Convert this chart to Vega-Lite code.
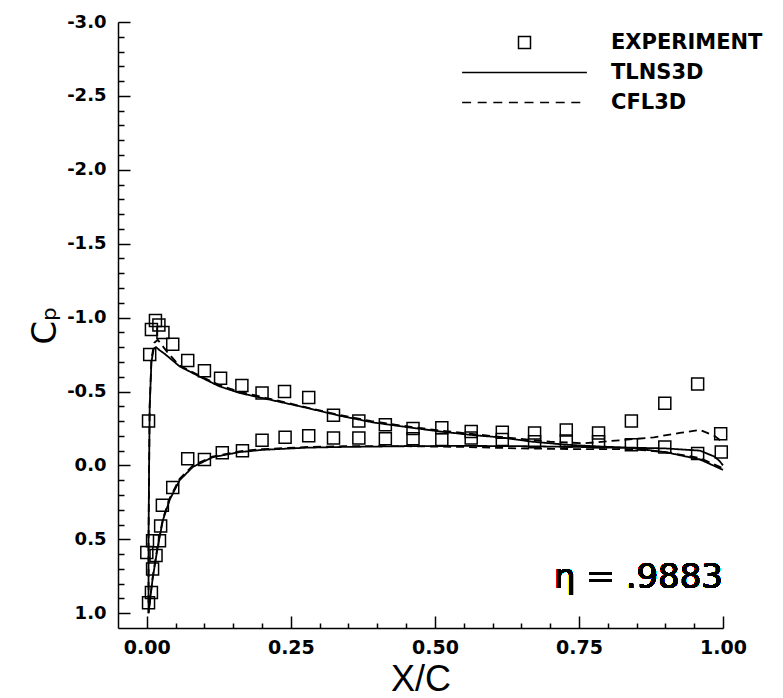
{
  "$schema": "https://vega.github.io/schema/vega-lite/v6.json",
  "width": 605,
  "height": 606,
  "autosize": {"type": "none"},
  "padding": {"left": 118, "top": 22, "right": 60, "bottom": 70},
  "background": "white",
  "config": {"view": {"stroke": null}, "font": "DejaVu Sans"},
  "data": {"values": [
    {"s":"EXPERIMENT","x":0.003,"cp":-0.30},{"s":"EXPERIMENT","x":0.005,"cp":-0.75},{"s":"EXPERIMENT","x":0.008,"cp":-0.92},{"s":"EXPERIMENT","x":0.015,"cp":-0.98},{"s":"EXPERIMENT","x":0.021,"cp":-0.95},{"s":"EXPERIMENT","x":0.028,"cp":-0.90},{"s":"EXPERIMENT","x":0.045,"cp":-0.82},{"s":"EXPERIMENT","x":0.071,"cp":-0.71},{"s":"EXPERIMENT","x":0.100,"cp":-0.64},{"s":"EXPERIMENT","x":0.128,"cp":-0.59},{"s":"EXPERIMENT","x":0.165,"cp":-0.54},{"s":"EXPERIMENT","x":0.200,"cp":-0.49},{"s":"EXPERIMENT","x":0.239,"cp":-0.50},{"s":"EXPERIMENT","x":0.281,"cp":-0.46},{"s":"EXPERIMENT","x":0.324,"cp":-0.34},{"s":"EXPERIMENT","x":0.368,"cp":-0.30},{"s":"EXPERIMENT","x":0.414,"cp":-0.275},{"s":"EXPERIMENT","x":0.462,"cp":-0.25},{"s":"EXPERIMENT","x":0.512,"cp":-0.255},{"s":"EXPERIMENT","x":0.563,"cp":-0.23},{"s":"EXPERIMENT","x":0.617,"cp":-0.225},{"s":"EXPERIMENT","x":0.673,"cp":-0.22},{"s":"EXPERIMENT","x":0.728,"cp":-0.24},{"s":"EXPERIMENT","x":0.784,"cp":-0.22},{"s":"EXPERIMENT","x":0.841,"cp":-0.30},{"s":"EXPERIMENT","x":0.899,"cp":-0.42},{"s":"EXPERIMENT","x":0.956,"cp":-0.55},{"s":"EXPERIMENT","x":0.996,"cp":-0.215},
    {"s":"EXPERIMENT","x":0.0,"cp":0.59},{"s":"EXPERIMENT","x":0.003,"cp":0.93},{"s":"EXPERIMENT","x":0.008,"cp":0.86},{"s":"EXPERIMENT","x":0.010,"cp":0.70},{"s":"EXPERIMENT","x":0.016,"cp":0.61},{"s":"EXPERIMENT","x":0.010,"cp":0.51},{"s":"EXPERIMENT","x":0.022,"cp":0.51},{"s":"EXPERIMENT","x":0.024,"cp":0.41},{"s":"EXPERIMENT","x":0.027,"cp":0.27},{"s":"EXPERIMENT","x":0.045,"cp":0.15},{"s":"EXPERIMENT","x":0.071,"cp":-0.045},{"s":"EXPERIMENT","x":0.100,"cp":-0.04},{"s":"EXPERIMENT","x":0.131,"cp":-0.085},{"s":"EXPERIMENT","x":0.166,"cp":-0.10},{"s":"EXPERIMENT","x":0.200,"cp":-0.17},{"s":"EXPERIMENT","x":0.240,"cp":-0.19},{"s":"EXPERIMENT","x":0.281,"cp":-0.20},{"s":"EXPERIMENT","x":0.324,"cp":-0.185},{"s":"EXPERIMENT","x":0.368,"cp":-0.185},{"s":"EXPERIMENT","x":0.414,"cp":-0.18},{"s":"EXPERIMENT","x":0.462,"cp":-0.18},{"s":"EXPERIMENT","x":0.512,"cp":-0.175},{"s":"EXPERIMENT","x":0.563,"cp":-0.185},{"s":"EXPERIMENT","x":0.617,"cp":-0.175},{"s":"EXPERIMENT","x":0.673,"cp":-0.16},{"s":"EXPERIMENT","x":0.728,"cp":-0.165},{"s":"EXPERIMENT","x":0.784,"cp":-0.16},{"s":"EXPERIMENT","x":0.841,"cp":-0.14},{"s":"EXPERIMENT","x":0.899,"cp":-0.125},{"s":"EXPERIMENT","x":0.956,"cp":-0.08},{"s":"EXPERIMENT","x":0.997,"cp":-0.09},

    {"s":"TLNS3D","i":0,"x":1.0,"cp":0.0},{"s":"TLNS3D","i":1,"x":0.994,"cp":-0.03},{"s":"TLNS3D","i":2,"x":0.985,"cp":-0.06},{"s":"TLNS3D","i":3,"x":0.96,"cp":-0.10},{"s":"TLNS3D","i":4,"x":0.90,"cp":-0.115},{"s":"TLNS3D","i":5,"x":0.84,"cp":-0.12},{"s":"TLNS3D","i":6,"x":0.786,"cp":-0.128},{"s":"TLNS3D","i":7,"x":0.728,"cp":-0.14},{"s":"TLNS3D","i":8,"x":0.67,"cp":-0.16},{"s":"TLNS3D","i":9,"x":0.613,"cp":-0.19},{"s":"TLNS3D","i":10,"x":0.566,"cp":-0.205},{"s":"TLNS3D","i":11,"x":0.508,"cp":-0.23},{"s":"TLNS3D","i":12,"x":0.45,"cp":-0.26},{"s":"TLNS3D","i":13,"x":0.394,"cp":-0.29},{"s":"TLNS3D","i":14,"x":0.336,"cp":-0.335},{"s":"TLNS3D","i":15,"x":0.277,"cp":-0.39},{"s":"TLNS3D","i":16,"x":0.219,"cp":-0.44},{"s":"TLNS3D","i":17,"x":0.161,"cp":-0.49},{"s":"TLNS3D","i":18,"x":0.126,"cp":-0.535},{"s":"TLNS3D","i":19,"x":0.092,"cp":-0.60},{"s":"TLNS3D","i":20,"x":0.057,"cp":-0.67},{"s":"TLNS3D","i":21,"x":0.031,"cp":-0.755},{"s":"TLNS3D","i":22,"x":0.022,"cp":-0.78},{"s":"TLNS3D","i":23,"x":0.016,"cp":-0.80},{"s":"TLNS3D","i":24,"x":0.012,"cp":-0.79},{"s":"TLNS3D","i":25,"x":0.008,"cp":-0.70},{"s":"TLNS3D","i":26,"x":0.005,"cp":-0.40},{"s":"TLNS3D","i":27,"x":0.004,"cp":0.0},{"s":"TLNS3D","i":28,"x":0.003,"cp":0.5},{"s":"TLNS3D","i":29,"x":0.003,"cp":1.0},{"s":"TLNS3D","i":30,"x":0.006,"cp":0.90},{"s":"TLNS3D","i":31,"x":0.01,"cp":0.77},{"s":"TLNS3D","i":32,"x":0.019,"cp":0.55},{"s":"TLNS3D","i":33,"x":0.028,"cp":0.37},{"s":"TLNS3D","i":34,"x":0.04,"cp":0.23},{"s":"TLNS3D","i":35,"x":0.057,"cp":0.10},{"s":"TLNS3D","i":36,"x":0.08,"cp":0.01},{"s":"TLNS3D","i":37,"x":0.114,"cp":-0.055},{"s":"TLNS3D","i":38,"x":0.161,"cp":-0.09},{"s":"TLNS3D","i":39,"x":0.2,"cp":-0.105},{"s":"TLNS3D","i":40,"x":0.277,"cp":-0.12},{"s":"TLNS3D","i":41,"x":0.34,"cp":-0.125},{"s":"TLNS3D","i":42,"x":0.45,"cp":-0.13},{"s":"TLNS3D","i":43,"x":0.55,"cp":-0.132},{"s":"TLNS3D","i":44,"x":0.65,"cp":-0.13},{"s":"TLNS3D","i":45,"x":0.75,"cp":-0.125},{"s":"TLNS3D","i":46,"x":0.84,"cp":-0.118},{"s":"TLNS3D","i":47,"x":0.90,"cp":-0.09},{"s":"TLNS3D","i":48,"x":0.96,"cp":-0.04},{"s":"TLNS3D","i":49,"x":1.0,"cp":0.03},

    {"s":"CFL3D","i":0,"x":0.995,"cp":-0.17},{"s":"CFL3D","i":1,"x":0.985,"cp":-0.20},{"s":"CFL3D","i":2,"x":0.96,"cp":-0.24},{"s":"CFL3D","i":3,"x":0.925,"cp":-0.22},{"s":"CFL3D","i":4,"x":0.88,"cp":-0.19},{"s":"CFL3D","i":5,"x":0.82,"cp":-0.17},{"s":"CFL3D","i":6,"x":0.76,"cp":-0.15},{"s":"CFL3D","i":7,"x":0.70,"cp":-0.16},{"s":"CFL3D","i":8,"x":0.62,"cp":-0.19},{"s":"CFL3D","i":9,"x":0.56,"cp":-0.215},{"s":"CFL3D","i":10,"x":0.50,"cp":-0.24},{"s":"CFL3D","i":11,"x":0.45,"cp":-0.265},{"s":"CFL3D","i":12,"x":0.39,"cp":-0.30},{"s":"CFL3D","i":13,"x":0.33,"cp":-0.345},{"s":"CFL3D","i":14,"x":0.28,"cp":-0.39},{"s":"CFL3D","i":15,"x":0.22,"cp":-0.445},{"s":"CFL3D","i":16,"x":0.16,"cp":-0.50},{"s":"CFL3D","i":17,"x":0.125,"cp":-0.545},{"s":"CFL3D","i":18,"x":0.09,"cp":-0.61},{"s":"CFL3D","i":19,"x":0.055,"cp":-0.68},{"s":"CFL3D","i":20,"x":0.035,"cp":-0.77},{"s":"CFL3D","i":21,"x":0.025,"cp":-0.82},{"s":"CFL3D","i":22,"x":0.019,"cp":-0.85},{"s":"CFL3D","i":23,"x":0.013,"cp":-0.83},{"s":"CFL3D","i":24,"x":0.008,"cp":-0.72},{"s":"CFL3D","i":25,"x":0.005,"cp":-0.40},{"s":"CFL3D","i":26,"x":0.004,"cp":0.0},{"s":"CFL3D","i":27,"x":0.003,"cp":0.5},{"s":"CFL3D","i":28,"x":0.003,"cp":1.0},{"s":"CFL3D","i":29,"x":0.006,"cp":0.90},{"s":"CFL3D","i":30,"x":0.01,"cp":0.76},{"s":"CFL3D","i":31,"x":0.019,"cp":0.54},{"s":"CFL3D","i":32,"x":0.028,"cp":0.36},{"s":"CFL3D","i":33,"x":0.04,"cp":0.22},{"s":"CFL3D","i":34,"x":0.057,"cp":0.09},{"s":"CFL3D","i":35,"x":0.08,"cp":0.0},{"s":"CFL3D","i":36,"x":0.114,"cp":-0.06},{"s":"CFL3D","i":37,"x":0.161,"cp":-0.095},{"s":"CFL3D","i":38,"x":0.2,"cp":-0.11},{"s":"CFL3D","i":39,"x":0.28,"cp":-0.125},{"s":"CFL3D","i":40,"x":0.34,"cp":-0.13},{"s":"CFL3D","i":41,"x":0.45,"cp":-0.13},{"s":"CFL3D","i":42,"x":0.55,"cp":-0.125},{"s":"CFL3D","i":43,"x":0.65,"cp":-0.115},{"s":"CFL3D","i":44,"x":0.75,"cp":-0.11},{"s":"CFL3D","i":45,"x":0.84,"cp":-0.11},{"s":"CFL3D","i":46,"x":0.90,"cp":-0.09},{"s":"CFL3D","i":47,"x":0.96,"cp":-0.05},{"s":"CFL3D","i":48,"x":1.0,"cp":0.02}
  ]},
  "encoding": {
    "x": {
      "field": "x", "type": "quantitative",
      "scale": {"domain": [-0.05, 1.0], "nice": false, "zero": false},
      "axis": {
        "title": "X/C",
        "orient": "bottom",
        "values": [0,0.05,0.1,0.15,0.2,0.25,0.3,0.35,0.4,0.45,0.5,0.55,0.6,0.65,0.7,0.75,0.8,0.85,0.9,0.95,1.0],
        "format": ".2f",
        "labelExpr": "abs(datum.value*4-round(datum.value*4))<1e-6 ? datum.label : ''",
        "tickSize": {"condition": {"test": "abs(datum.value*4-round(datum.value*4))<1e-6", "value": -12}, "value": -5},
        "labelPadding": 22,
        "labelOverlap": false, "labelFlush": false, "labelBound": false,
        "grid": false,
        "domainColor": "black", "domainWidth": 1.5,
        "tickColor": "black", "tickWidth": 1.5,
        "labelColor": "black", "labelFont": "DejaVu Sans", "labelFontWeight": "bold", "labelFontSize": 19,
        "titleColor": "black", "titleFont": "Liberation Sans", "titleFontWeight": "normal", "titleFontSize": 36,
        "titlePadding": -2
      }
    },
    "y": {
      "field": "cp", "type": "quantitative",
      "scale": {"domain": [-3.0, 1.1], "reverse": true, "nice": false, "zero": false},
      "axis": {
        "title": "Cₚ",
        "orient": "left",
        "values": [-3.0,-2.9,-2.8,-2.7,-2.6,-2.5,-2.4,-2.3,-2.2,-2.1,-2.0,-1.9,-1.8,-1.7,-1.6,-1.5,-1.4,-1.3,-1.2,-1.1,-1.0,-0.9,-0.8,-0.7,-0.6,-0.5,-0.4,-0.3,-0.2,-0.1,0.0,0.1,0.2,0.3,0.4,0.5,0.6,0.7,0.8,0.9,1.0],
        "format": ".1f",
        "labelExpr": "abs(datum.value*2-round(datum.value*2))<1e-6 ? replace(datum.label, '−', '-') : ''",
        "tickSize": {"condition": {"test": "abs(datum.value*2-round(datum.value*2))<1e-6", "value": -12}, "value": -6},
        "labelPadding": 24,
        "labelOverlap": false, "labelFlush": false, "labelBound": false,
        "grid": false,
        "domainColor": "black", "domainWidth": 1.5,
        "tickColor": "black", "tickWidth": 1.5,
        "labelColor": "black", "labelFont": "DejaVu Sans", "labelFontWeight": "bold", "labelFontSize": 18,
        "titleColor": "black", "titleFont": "DejaVu Sans", "titleFontWeight": "normal", "titleFontSize": 34,
        "titlePadding": 4
      }
    }
  },
  "layer": [
    {
      "transform": [{"filter": "datum.s !== 'EXPERIMENT'"}],
      "mark": {"type": "line", "color": "black", "strokeWidth": 1.8},
      "encoding": {
        "strokeDash": {"field": "s", "type": "nominal", "scale": {"domain": ["TLNS3D", "CFL3D"], "range": [[1, 0], [8, 5]]}, "legend": null},
        "order": {"field": "i", "type": "quantitative"}
      }
    },
    {
      "transform": [{"filter": "datum.s === 'EXPERIMENT'"}],
      "mark": {"type": "point", "filled": false, "size": 144, "color": "black", "strokeWidth": 1.5, "opacity": 1},
      "encoding": {
        "shape": {
          "field": "s", "type": "nominal",
          "scale": {"domain": ["EXPERIMENT", "TLNS3D", "CFL3D"], "range": ["M-1,-1H1V1H-1Z", "M-10.4,0H10.4", "M-10.4,0H-8.9M-7.8,0H-6.3M-5.2,0H-3.7M-2.6,0H-1.1M0,0H1.5M2.6,0H4.1M5.2,0H6.7M7.8,0H9.3"]},
          "legend": {
            "title": null,
            "orient": "none",
            "legendX": 396,
            "legendY": 10,
            "padding": 0,
            "symbolSize": 144,
            "symbolStrokeWidth": 1.5,
            "symbolStrokeColor": "black",
            "symbolFillColor": "transparent",
            "labelFont": "DejaVu Sans",
            "labelFontWeight": "bold",
            "labelFontSize": 21,
            "labelColor": "black",
            "labelOffset": 76,
            "rowPadding": 8,
            "labelLimit": 400
          }
        }
      }
    },
    {
      "mark": {"type": "text", "font": "DejaVu Sans", "fontSize": 34, "align": "right", "baseline": "alphabetic", "color": "black"},
      "encoding": {
        "x": {"datum": 1.0, "type": "quantitative"},
        "y": {"datum": 0.83, "type": "quantitative"},
        "text": {"value": "η = .9883"}
      }
    }
  ]
}
